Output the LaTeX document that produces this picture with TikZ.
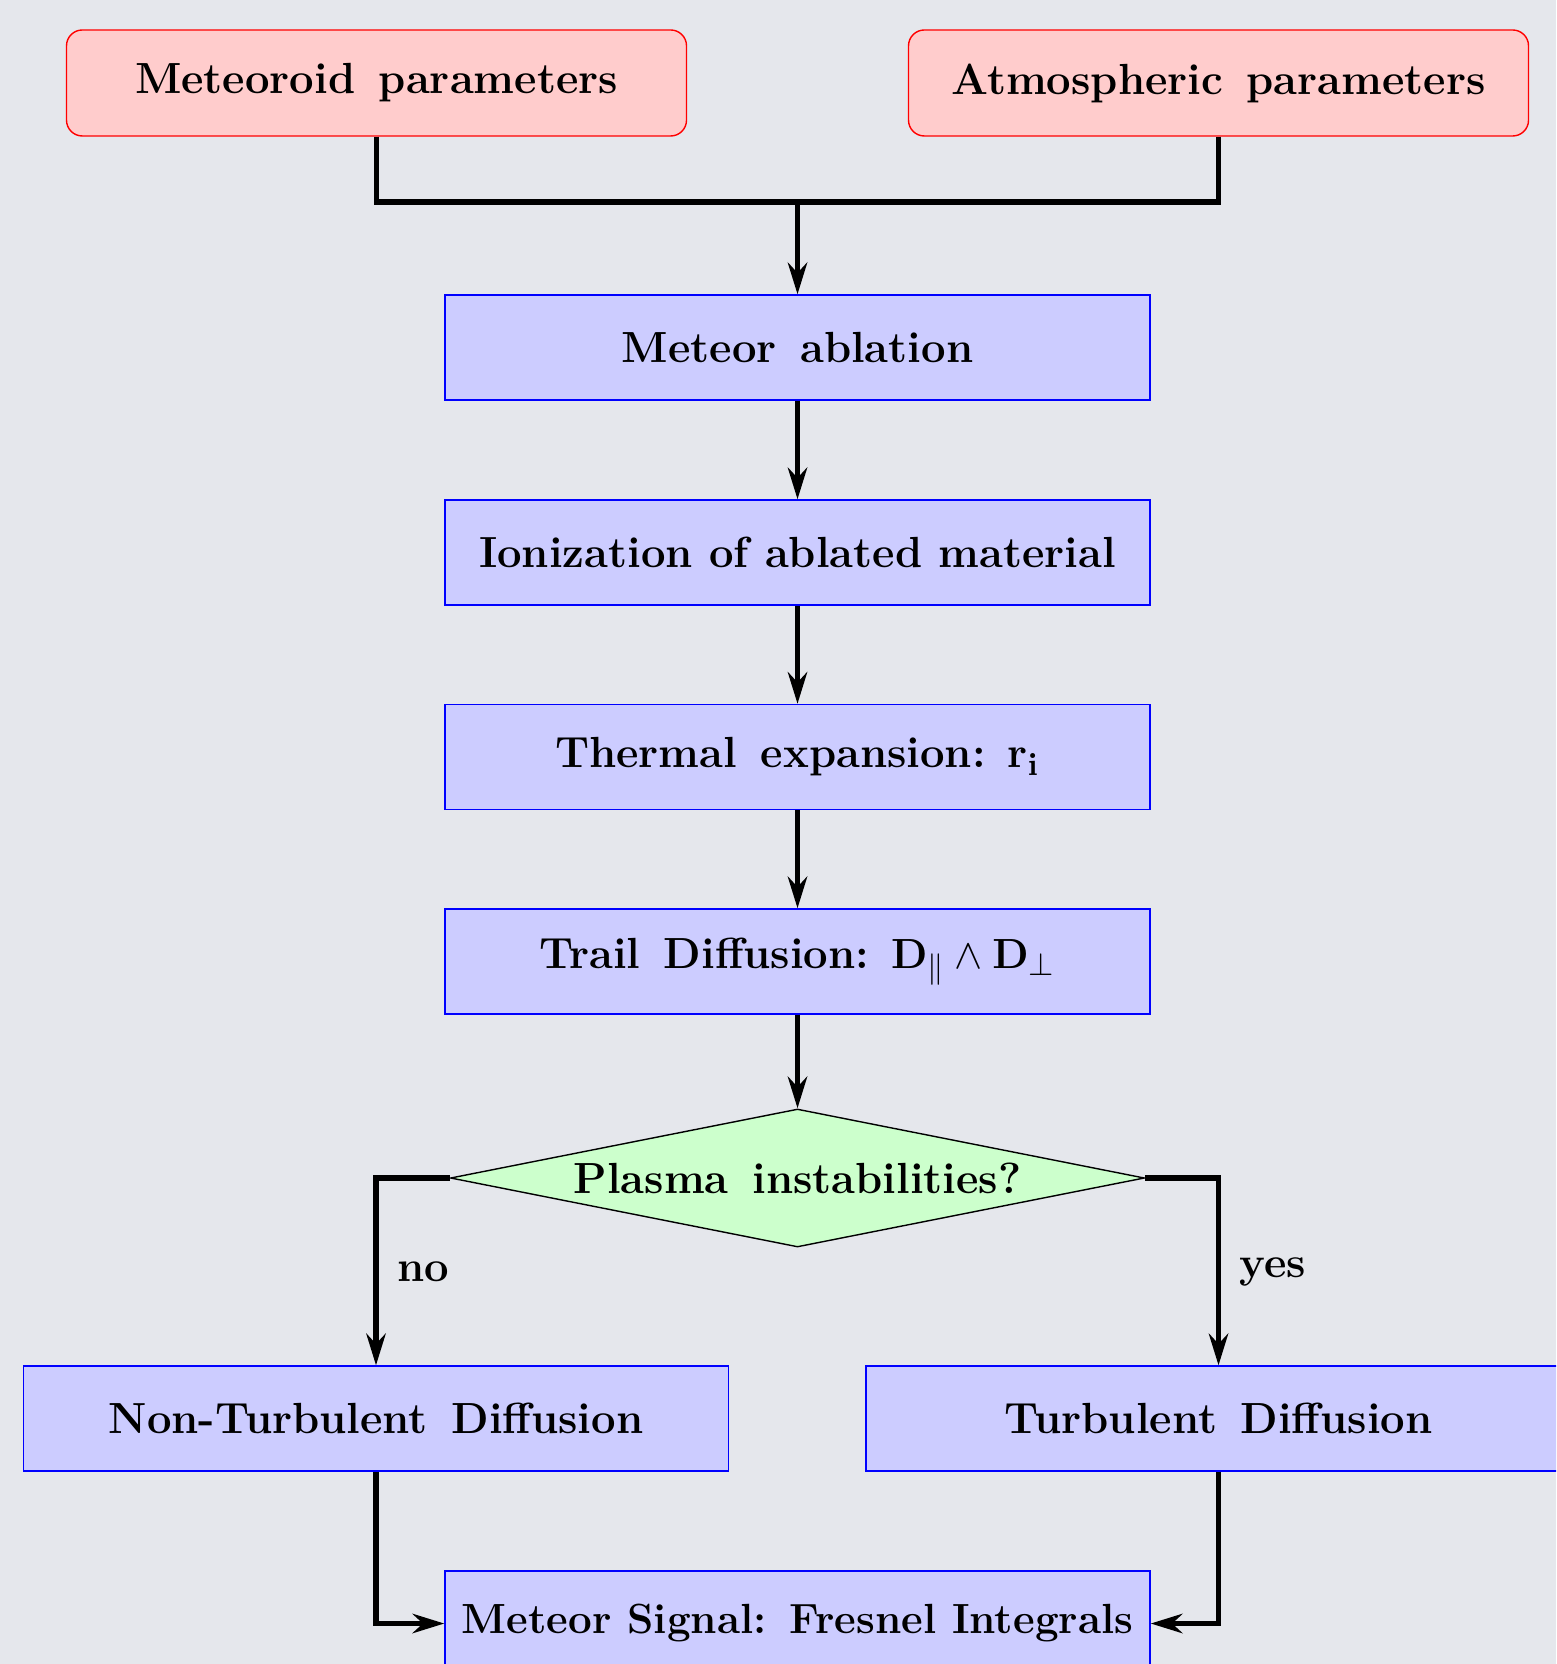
\documentclass[tikz,border=0pt]{standalone}
\usepackage{xcolor}
\usepackage{amssymb}
\usepackage{tikz}
\usetikzlibrary{arrows.meta,shapes.geometric}
\definecolor{bgpanel}{RGB}{229,231,236}

\begin{document}
\begin{tikzpicture}[
  font=\fontsize{12.4}{15}\selectfont\bfseries,
  inputbox/.style={draw=red,fill=red!20,rounded corners=4.5pt,minimum width=6.2cm,minimum height=1.06cm},
  procbox/.style={draw=blue,fill=blue!20,minimum width=7.05cm,minimum height=1.05cm},
  decision/.style={diamond,draw=black,fill=green!20,aspect=5,inner sep=0pt,minimum width=6.94cm,minimum height=1.38cm},
  wire/.style={line width=1.5pt},
  flow/.style={line width=1.5pt,-{Stealth[length=9pt,width=5.5pt]}}]
\fill[bgpanel] (0,0) rectangle (15.56,-16.64);
\useasboundingbox (0,0) rectangle (15.56,-16.64);
\begin{scope}
\clip (0,0) rectangle (15.56,-16.64);
\node[inputbox] (meteoroid) at (3.765,-0.83) {Meteoroid~\,parameters};
\node[inputbox] (atmos) at (12.185,-0.83) {Atmospheric~\,parameters};
\coordinate (join) at (7.975,-2.02);
\node[procbox] (ablation) at (7.975,-3.475) {Meteor~\,ablation};
\node[procbox] (ionize) at (7.975,-5.525) {Ionization of ablated material};
\node[procbox] (thermal) at (7.975,-7.57) {Thermal~\,expansion: r$_\mathbf{i}$};
\node[procbox] (trail) at (7.975,-9.615) {Trail~\,Diffusion: $\mathbf{D}_{\|}\wedge\mathbf{D}_{\perp}$};
\node[decision] (plasma) at (7.975,-11.78) {Plasma~\,instabilities?};
\node[procbox] (laminar) at (3.76,-14.185) {Non-Turbulent~\,Diffusion};
\node[procbox] (turbulent) at (12.185,-14.185) {Turbulent~\,Diffusion};
\node[procbox,inner xsep=1pt,font=\fontsize{12}{15}\selectfont\bfseries] (signal) at (7.975,-16.235) {Meteor Signal:~\,Fresnel Integrals};
% inputs meet above the ablation box
\draw[wire] (meteoroid.south) |- (join);
\draw[wire] (atmos.south) |- (join);
\draw[flow] (join) -- (ablation);
\draw[flow] (ablation) -- (ionize);
\draw[flow] (ionize) -- (thermal);
\draw[flow] (thermal) -- (trail);
\draw[flow] (trail) -- (plasma);
% branches
\draw[flow] (plasma.west) -| node[pos=0.75,right=2pt] {no} (laminar.north);
\draw[flow] (plasma.east) -| node[pos=0.75,right=2pt] {yes} (turbulent.north);
\draw[flow] (laminar.south) |- (signal.west);
\draw[flow] (turbulent.south) |- (signal.east);
\end{scope}
\end{tikzpicture}
\end{document}
